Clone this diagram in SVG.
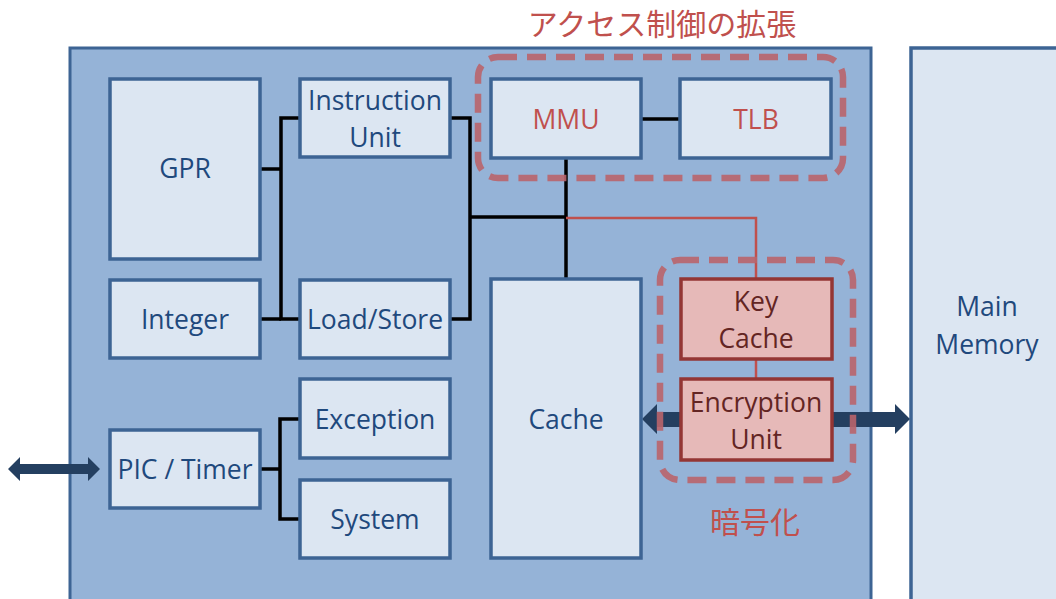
<svg xmlns="http://www.w3.org/2000/svg" width="1056" height="599" viewBox="0 0 1056 599">
  <defs>
    <style>
      .panel { fill: #95b3d7; stroke: #3d6494; stroke-width: 3; }
      .box { fill: #dce6f2; stroke: #3d6494; stroke-width: 3.5; }
      .crypt { fill: #e6b9b8; stroke: #943634; stroke-width: 3.5; }
      .lbl { font-family: "Open Sans", "Liberation Sans", sans-serif; font-size: 26.5px; fill: #1f497d; text-anchor: middle; }
      .lbl-red { fill: #c0504d; }
      .lbl-dark { fill: #632523; }
      .title { font-family: "Noto Sans CJK JP", sans-serif; font-size: 30px; fill: #c0504d; text-anchor: middle; }
      .wire { fill: none; stroke: #000; stroke-width: 3.5; }
      .keywire { fill: none; stroke: #c0504d; stroke-width: 2.5; }
      .group { fill: none; stroke: #b9646c; stroke-opacity: 0.9; stroke-width: 6.5; stroke-dasharray: 19 10; }
      .bus { fill: #243f60; }
    </style>
  </defs>

  <rect width="1056" height="599" fill="#ffffff"/>

  <!-- processor panel and external memory -->
  <rect id="processor" class="panel" x="70" y="48" width="801" height="560"/>
  <g id="main-memory">
    <rect class="box" x="911" y="48" width="160" height="560"/>
    <text class="lbl" x="987" y="316">Main</text>
    <text class="lbl" x="987" y="354">Memory</text>
  </g>

  <!-- connectors -->
  <g id="connectors">
    <polyline class="wire" points="260,169 281,169"/>
    <polyline class="wire" points="300,118 281,118 281,319 300,319"/>
    <polyline class="wire" points="260,319 281,319"/>
    <polyline class="wire" points="450,118 470,118 470,319 450,319"/>
    <polyline class="wire" points="470,217 566,217"/>
    <polyline class="wire" points="566,158 566,279"/>
    <polyline class="wire" points="641,119 680,119"/>
    <polyline class="wire" points="260,469 280,469"/>
    <polyline class="wire" points="300,419 280,419 280,519 300,519"/>
    <polyline class="keywire" points="566,218 756,218 756,279"/>
    <polyline class="keywire" points="756,359 756,379"/>
    <!-- buses -->
    <polygon class="bus" points="8,469 20,457 20,464 88,464 88,457 100,469 88,481 88,474 20,474 20,481"/>
    <polygon class="bus" points="642,419 657,404 657,412 895,412 895,404 910,419 895,434 895,427 657,427 657,434"/>
  </g>

  <g id="gpr">
    <rect class="box" x="110" y="79" width="150" height="180"/>
    <text class="lbl" x="185" y="178">GPR</text>
  </g>
  <g id="integer">
    <rect class="box" x="110" y="280" width="150" height="78"/>
    <text class="lbl" x="185" y="329">Integer</text>
  </g>
  <g id="instruction-unit">
    <rect class="box" x="300" y="79" width="150" height="78"/>
    <text class="lbl" x="375" y="110">Instruction</text>
    <text class="lbl" x="375" y="147">Unit</text>
  </g>
  <g id="load-store">
    <rect class="box" x="300" y="280" width="150" height="78"/>
    <text class="lbl" x="375" y="329">Load/Store</text>
  </g>
  <g id="exception">
    <rect class="box" x="300" y="379" width="150" height="79"/>
    <text class="lbl" x="375" y="429">Exception</text>
  </g>
  <g id="system">
    <rect class="box" x="300" y="480" width="150" height="78"/>
    <text class="lbl" x="375" y="529">System</text>
  </g>
  <g id="pic-timer">
    <rect class="box" x="110" y="430" width="150" height="78"/>
    <text class="lbl" x="185" y="479">PIC / Timer</text>
  </g>
  <g id="mmu">
    <rect class="box" x="491" y="79" width="150" height="79"/>
    <text class="lbl lbl-red" x="566" y="129">MMU</text>
  </g>
  <g id="tlb">
    <rect class="box" x="680" y="79" width="151" height="79"/>
    <text class="lbl lbl-red" x="756" y="129">TLB</text>
  </g>
  <g id="cache">
    <rect class="box" x="491" y="279" width="150" height="279"/>
    <text class="lbl" x="566" y="429">Cache</text>
  </g>
  <g id="key-cache">
    <rect class="crypt" x="681" y="279" width="151" height="80"/>
    <text class="lbl lbl-dark" x="756" y="311">Key</text>
    <text class="lbl lbl-dark" x="756" y="348">Cache</text>
  </g>
  <g id="encryption-unit">
    <rect class="crypt" x="681" y="379" width="151" height="81"/>
    <text class="lbl lbl-dark" x="756" y="412">Encryption</text>
    <text class="lbl lbl-dark" x="756" y="449">Unit</text>
  </g>

  <!-- extension groups -->
  <g id="access-control">
    <rect class="group" x="478" y="57" width="365" height="121" rx="20"/>
    <text class="title" x="662" y="35">アクセス制御の拡張</text>
  </g>
  <g id="encryption">
    <rect class="group" x="660" y="260" width="193" height="220" rx="20"/>
    <text class="title" x="755" y="533">暗号化</text>
  </g>
</svg>
